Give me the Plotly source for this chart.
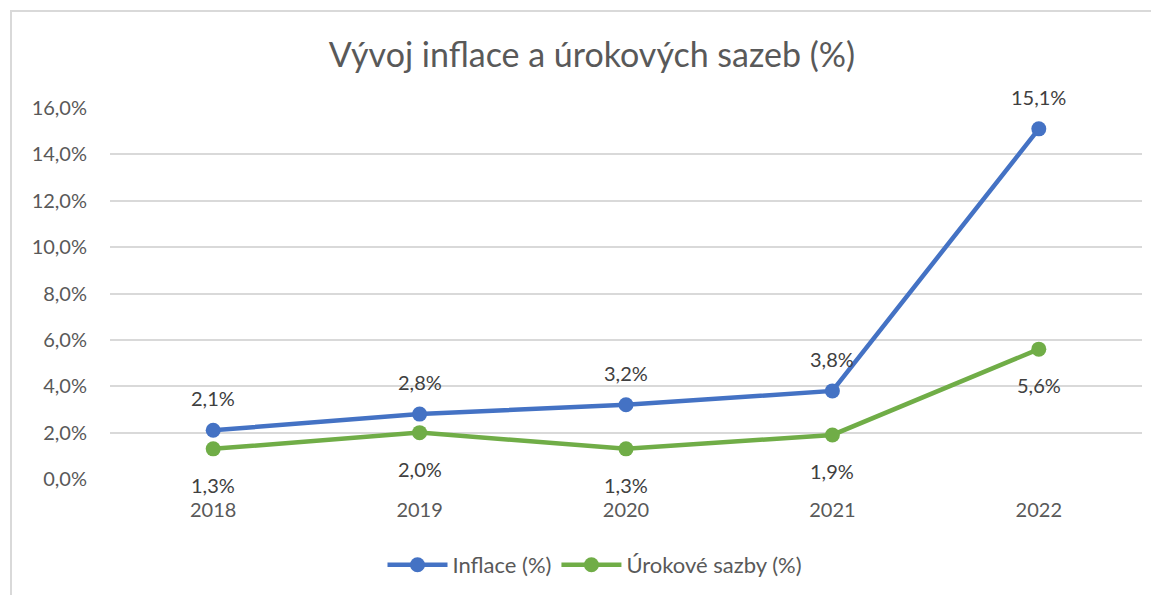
import plotly.graph_objects as go

years = ["2018", "2019", "2020", "2021", "2022"]
inflace = [2.1, 2.8, 3.2, 3.8, 15.1]
urokove = [1.3, 2.0, 1.3, 1.9, 5.6]
y_ticks = [0, 2, 4, 6, 8, 10, 12, 14, 16]
y_tick_labels = ["0,0%", "2,0%", "4,0%", "6,0%", "8,0%", "10,0%", "12,0%", "14,0%", "16,0%"]

def fmt(v):
    return f"{v:.1f}".replace(".", ",") + "%"

# page offset (body margin) compensation
OX, OY = 8, 8
W, H = 1159 - OX, 595 - OY
L, R, T, B = 110 - OX, 1159 - 1142, 108 - OY, 595 - 479
pw, ph = W - L - R, H - T - B

FONT = "Lato"
TXT = "#595959"
LBL = "#404040"

fig = go.Figure()
fig.add_trace(go.Scatter(
    x=years, y=inflace, name="Inflace (%)", mode="lines+markers",
    line=dict(color="#4472C4", width=4.5), marker=dict(size=15, color="#4472C4"),
))
fig.add_trace(go.Scatter(
    x=years, y=urokove, name="Úrokové sazby (%)", mode="lines+markers",
    line=dict(color="#70AD47", width=4.5), marker=dict(size=15, color="#70AD47"),
))

# data labels (category index positions on the category axis)
for i, v in enumerate(inflace):
    fig.add_annotation(x=i, y=v, xref="x", yref="y", text=fmt(v), showarrow=False, yshift=32,
                       font=dict(family=FONT, size=20, color=LBL))
for i, v in enumerate(urokove):
    fig.add_annotation(x=i, y=v, xref="x", yref="y", text=fmt(v), showarrow=False, yshift=-36,
                       font=dict(family=FONT, size=20, color=LBL))

def px(xp):
    return (xp - OX - L) / pw

def py(yp):
    return (H - B - (yp - OY)) / ph

fig.add_shape(type="rect", xref="paper", yref="paper",
              x0=px(11), x1=px(1180), y0=py(11), y1=py(620),
              line=dict(color="#D9D9D9", width=2), fillcolor="rgba(0,0,0,0)", layer="below")

fig.update_layout(
    width=W, height=H,
    margin=dict(l=L, r=R, t=T, b=B, autoexpand=False),
    paper_bgcolor="white", plot_bgcolor="white",
    title=dict(text="Vývoj inflace a úrokových sazeb (%)", xref="container",
               x=(592 - OX) / W, xanchor="center",
               y=1 - (55 - OY) / H, yanchor="middle",
               font=dict(family=FONT, size=34, color=TXT)),
    font=dict(family=FONT, color=TXT),
    legend=dict(orientation="h", x=px(595), xanchor="center", y=py(565), yanchor="middle",
                font=dict(family=FONT, size=22, color=TXT), itemwidth=60,
                traceorder="normal"),
    showlegend=True,
)
fig.update_xaxes(type="category", showgrid=False, showline=False, ticks="",
                 tickfont=dict(family=FONT, size=20, color=TXT), ticklabelstandoff=17,
                 range=[-0.5, 4.5], fixedrange=True)
fig.update_yaxes(range=[0, 16], tickvals=y_ticks, ticktext=y_tick_labels,
                 showgrid=True, gridcolor="#D9D9D9", gridwidth=1.5, zeroline=False,
                 showline=False, ticks="", tickfont=dict(family=FONT, size=20, color=TXT),
                 ticklabelstandoff=22, fixedrange=True)

fig.write_html("out.html")
